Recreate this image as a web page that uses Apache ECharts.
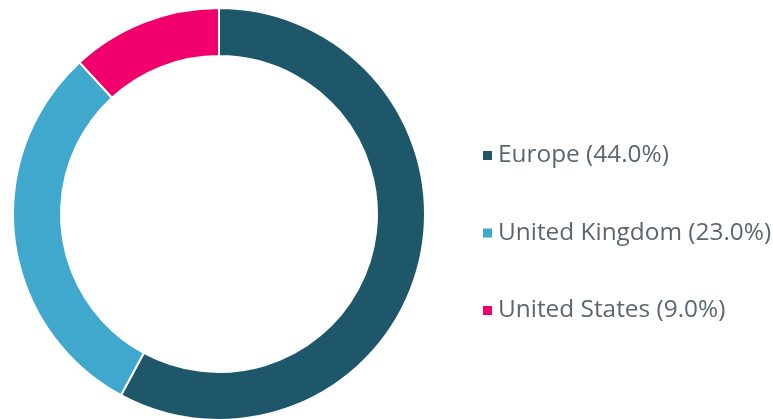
<!DOCTYPE html>
<html>
<head>
<meta charset="utf-8">
<script src="https://cdn.jsdelivr.net/npm/echarts@6/dist/echarts.min.js"></script>
<style>
  html, body { margin: 0; padding: 0; background: #fff; }
  #chart { width: 773px; height: 419px; }
</style>
</head>
<body>
<div id="chart"></div>
<script>
const regions = ["Europe", "United Kingdom", "United States"];
const shares = [44.0, 23.0, 9.0];
const colors = ["#1e566a", "#41a8cd", "#f1006d"];

const chart = echarts.init(document.getElementById("chart"));

const option = {
  animation: false,
  color: colors,
  legend: {
    orient: "vertical",
    left: 476,
    top: 137,
    itemWidth: 11,
    itemHeight: 11,
    itemGap: 50.5,
    icon: "rect",
    selectedMode: false,
    textStyle: {
      fontFamily: "Open Sans",
      fontSize: 24.4,
      lineHeight: 27,
      color: "#5b6670"
    },
    formatter: (name) => {
      const i = regions.indexOf(name);
      return name + " (" + shares[i].toFixed(1) + "%)";
    }
  },
  series: [
    {
      type: "pie",
      center: [219, 214],
      radius: [158, 206],
      startAngle: 90,
      clockwise: true,
      label: { show: false },
      labelLine: { show: false },
      emphasis: { disabled: true },
      itemStyle: { borderColor: "#fff", borderWidth: 2 },
      data: regions.map((r, i) => ({ name: r, value: shares[i] }))
    }
  ]
};

chart.setOption(option);
</script>
</body>
</html>
